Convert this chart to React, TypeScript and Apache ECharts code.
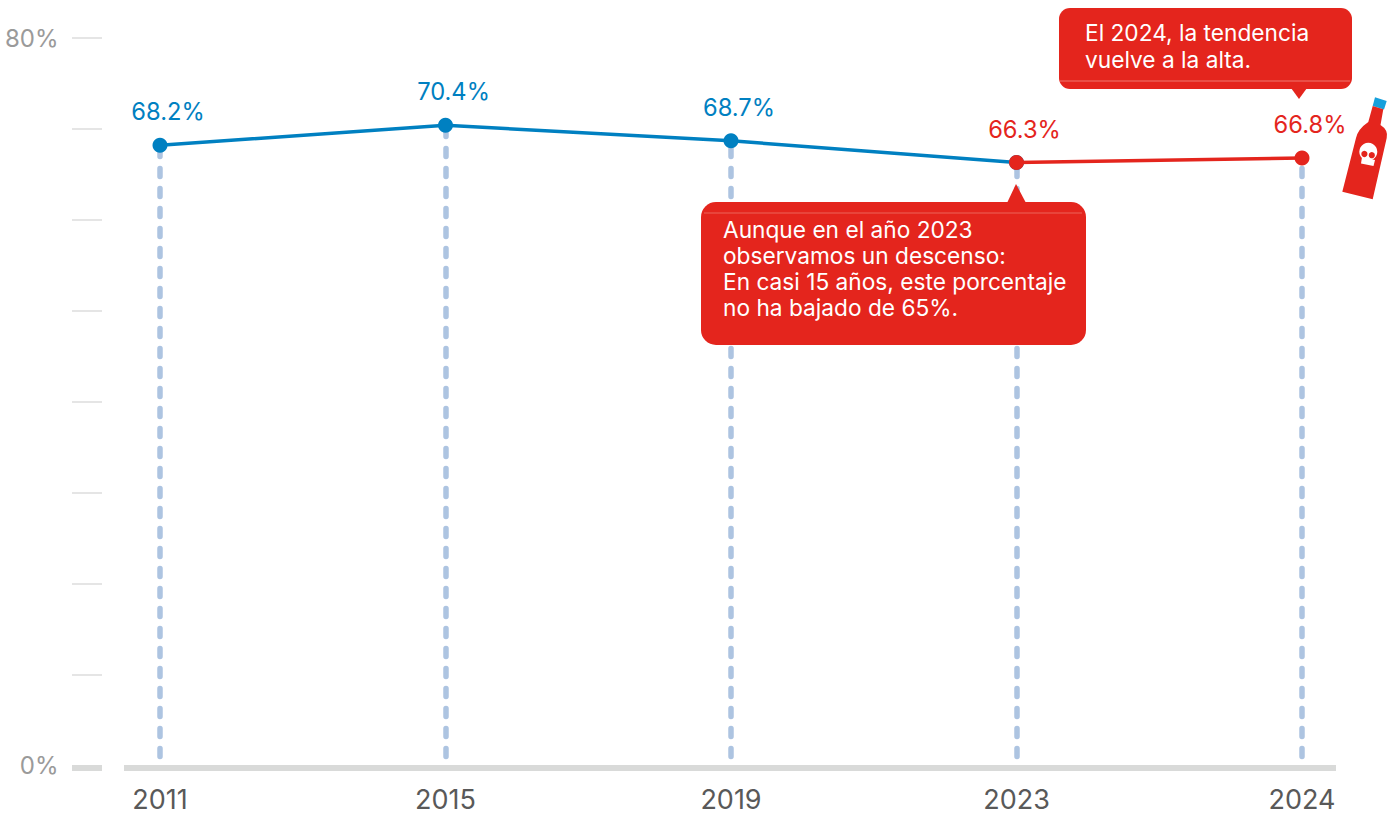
import React, { useEffect, useRef } from "react";
import * as echarts from "echarts";

const years = ["2011", "2015", "2019", "2023", "2024"];
const blueValues = [68.2, 70.4, 68.7, 66.3, null];
const redValues = [null, null, null, 66.3, 66.8];
const guideValues = [68.2, 70.4, 68.7, 66.3, 66.8];
const yTickLabels = ["0%", "80%"];
const noteLower = "Aunque en el año 2023\nobservamos un descenso:\nEn casi 15 años, este porcentaje\nno ha bajado de 65%.";
const noteUpper = "El 2024, la tendencia\nvuelve a la alta.";

const FONT = "Inter, 'Noto Sans', sans-serif";
const BLUE = "#0080c1";
const RED = "#e4251d";

echarts.graphic.registerShape(
  "bottleBody",
  echarts.graphic.extendPath(
    "M1372.7 106 L1383.3 109.3 L1380.5 125 Q1388.5 130 1386.7 138 L1372.7 199.3 L1342.3 191.7 L1356 138 Q1358 129 1368.3 122 Z",
    {}
  )
);

export default function App() {
  const ref = useRef<HTMLDivElement>(null);
  useEffect(() => {
    document.body.style.margin = "0";
    const chart = echarts.init(ref.current!, null, { renderer: "svg" });
    const labelStyle = (color: string) => ({
      show: true,
      position: "top" as const,
      distance: 0,
      offset: [8, -14],
      color,
      fontFamily: FONT,
      fontSize: 23.7,
      formatter: (p: any) => `${p.value}%`,
    });
    chart.setOption({
      animation: false,
      backgroundColor: "#ffffff",
      grid: { left: 160, width: 1142, top: 38, height: 727.6, containLabel: false },
      xAxis: {
        type: "category",
        data: years,
        boundaryGap: false,
        axisLine: { show: false },
        axisTick: { show: false },
        splitLine: { show: false },
        axisLabel: { color: "#595959", fontFamily: FONT, fontSize: 27, lineHeight: 25, margin: 21.5, interval: 0 },
      },
      yAxis: {
        type: "value",
        min: 0,
        max: 80,
        interval: 10,
        offset: 58,
        axisLine: { show: false },
        axisTick: { show: true, length: 30, lineStyle: { color: "#dcdddc", width: 1.5 } },
        splitLine: { show: false },
        axisLabel: {
          color: "#9a9a9a",
          fontFamily: FONT,
          fontSize: 24,
          margin: 43.5,
          formatter: (v: number) => (yTickLabels.includes(`${v}%`) ? `${v}%` : ""),
        },
      },
      series: [
        {
          name: "guías",
          type: "line",
          data: guideValues,
          symbol: "none",
          lineStyle: { opacity: 0 },
          z: 1,
          silent: true,
          markLine: {
            silent: true,
            z: 1,
            symbol: "none",
            label: { show: false },
            lineStyle: { color: "#adc4e1", width: 5.5, type: [8, 12], cap: "round", opacity: 1 },
            data: guideValues.map((v, i) => [
              { coord: [years[i], 1.0] },
              { coord: [years[i], v] },
            ]),
          },
        },
        {
          name: "azul",
          type: "line",
          data: blueValues.map((v, i) =>
            i === 3 ? { value: v, label: { show: false } } : v
          ),
          connectNulls: false,
          symbol: "circle",
          symbolSize: 15,
          itemStyle: { color: BLUE },
          lineStyle: { color: BLUE, width: 3.5 },
          label: labelStyle(BLUE),
          z: 3,
        },
        {
          name: "rojo",
          type: "line",
          data: redValues,
          connectNulls: false,
          symbol: "circle",
          symbolSize: 15,
          itemStyle: { color: RED },
          lineStyle: { color: RED, width: 3.5 },
          label: labelStyle(RED),
          z: 4,
        },
      ],
      graphic: [
        { type: "rect", z: 5, shape: { x: 124, y: 765, width: 1212, height: 6 }, style: { fill: "#d9dad9" } },
        { type: "rect", z: 5, shape: { x: 72, y: 765, width: 30, height: 6 }, style: { fill: "#d9dad9" } },
        // lower callout
        { type: "polygon", z: 10, shape: { points: [[1007, 203], [1016, 184], [1026, 203]] }, style: { fill: RED } },
        { type: "rect", z: 10, shape: { x: 701, y: 202, width: 385, height: 143, r: 15 }, style: { fill: RED } },
        { type: "rect", z: 11, shape: { x: 704, y: 212, width: 378, height: 2 }, style: { fill: "#ee6a62", opacity: 0.45 } },
        {
          type: "text", z: 12, x: 723, y: 216,
          style: { text: noteLower, fill: "#ffffff", font: `22.7px ${FONT}`, lineHeight: 26, textAlign: "left", textVerticalAlign: "top" },
        },
        // upper callout
        { type: "polygon", z: 10, shape: { points: [[1291, 88], [1299, 99], [1307, 88]] }, style: { fill: RED } },
        { type: "rect", z: 10, shape: { x: 1059, y: 8, width: 293, height: 81, r: 11 }, style: { fill: RED } },
        { type: "rect", z: 11, shape: { x: 1060, y: 80, width: 290, height: 2 }, style: { fill: "#ee6a62", opacity: 0.6 } },
        {
          type: "text", z: 12, x: 1085, y: 19,
          style: { text: noteUpper, fill: "#ffffff", font: `22.7px ${FONT}`, lineHeight: 27, textAlign: "left", textVerticalAlign: "top" },
        },
        // bottle
        { type: "polygon", z: 10, shape: { points: [[1375, 97.3], [1386.7, 101], [1384, 109.5], [1372.7, 106]] }, style: { fill: "#16a0dc" } },
        { type: "bottleBody", z: 10, x: 0, y: 0, style: { fill: RED } },
        { type: "circle", z: 11, shape: { cx: 1368.3, cy: 151.7, r: 9 }, style: { fill: "#ffffff" } },
        { type: "polygon", z: 11, shape: { points: [[1362, 157], [1375, 160], [1373.5, 166], [1361, 163.5]] }, style: { fill: "#ffffff" } },
        { type: "circle", z: 12, shape: { cx: 1364.4, cy: 154, r: 3.1 }, style: { fill: RED } },
        { type: "circle", z: 12, shape: { cx: 1371.8, cy: 155.2, r: 3.1 }, style: { fill: RED } },
      ],
    });
    return () => chart.dispose();
  }, []);
  return <div ref={ref} style={{ position: "absolute", left: 0, top: 0, width: 1395, height: 816 }} />;
}
